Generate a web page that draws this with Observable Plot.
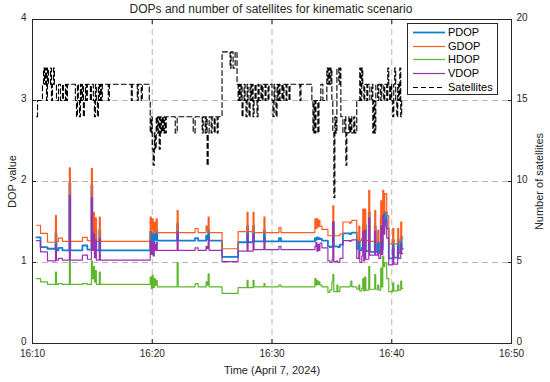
<!DOCTYPE html>
<html><head><meta charset="utf-8">
<script src="https://cdn.jsdelivr.net/npm/d3@7"></script>
<script src="https://cdn.jsdelivr.net/npm/@observablehq/plot@0.6"></script>
<style>
body{margin:0;background:#fff;font-family:"Liberation Sans",Arial,sans-serif;}
#wrap{position:relative;width:550px;height:382px;overflow:hidden;}
#title{position:absolute;top:2px;left:0;width:542px;text-align:center;font-size:12px;color:#262626;line-height:14px;}
#legend{position:absolute;left:407px;top:23px;width:89px;height:70px;border:1px solid #262626;background:#fff;}
.lrow{position:absolute;left:0;height:13px;width:89px;}
.lrow svg{position:absolute;left:4px;top:0;}
.lrow span{position:absolute;left:40px;top:-1px;font-size:11px;color:#000;line-height:14px;}
</style></head><body>
<div id="wrap"><div id="title">DOPs and number of satellites for kinematic scenario</div></div>
<script>
// ---- data (time in minutes after 16:10) ----
const timeTicks = [0, 10, 20, 30, 40];
const timeTickLabels = ["16:10", "16:20", "16:30", "16:40", "16:50"];
const dopTicks = [0, 1, 2, 3, 4];
const dopTickLabels = ["0", "1", "2", "3", "4"];
const satTickLabels = ["0", "5", "10", "15", "20"];
const seriesNames = ["PDOP", "GDOP", "HDOP", "VDOP", "Satellites"];
const seriesColors = ["#0f7fd0", "#ff5c1e", "#5cb82a", "#9a32b0", "#000000"];

const dopTime = [0.33,0.67,1.25,1.92,2.00,2.17,2.50,3.08,3.16,4.17,4.58,4.92,5.00,5.08,5.17,5.25,5.33,5.58,5.66,
  9.83,9.92,10.00,10.08,10.17,10.25,10.33,10.42,12.08,12.16,13.58,13.83,14.50,14.58,14.67,14.75,15.83,17.17,
  17.92,18.00,18.42,18.50,19.33,19.41,20.58,20.75,23.58,23.67,23.75,23.83,23.92,24.00,24.17,24.67,24.83,25.00,
  25.08,25.16,25.42,25.50,25.67,25.92,26.50,26.58,26.67,27.08,27.25,27.33,27.50,27.58,27.66,27.75,27.83,28.08,
  28.16,28.58,28.66,28.83,28.92,29.08,29.16,29.25,29.33,29.42,29.58,29.75,30.08,30.17,30.50,30.58,30.75,30.83,30.92];
const gdop = [1.46,1.36,1.25,1.58,1.26,1.30,1.26,2.17,1.26,1.31,1.27,2.16,1.40,1.62,1.30,1.55,1.26,1.56,1.26,
  1.56,1.40,1.54,1.36,1.50,1.38,1.54,1.37,1.64,1.37,1.42,1.37,1.45,1.40,1.56,1.37,1.17,1.38,
  1.62,1.38,1.62,1.37,1.56,1.37,1.43,1.37,1.54,1.42,1.54,1.44,1.52,1.45,1.41,1.33,1.33,1.33,
  1.70,1.33,1.33,1.33,1.35,1.50,1.48,1.50,1.52,1.27,1.45,1.27,1.30,1.66,1.27,1.66,1.27,1.89,
  1.26,1.64,1.26,1.40,1.25,1.76,1.30,1.89,1.62,1.85,1.58,1.23,1.42,1.23,1.42,1.26,1.50,1.30,1.30];
const pdop = [1.31,1.19,1.17,1.36,1.15,1.18,1.15,1.98,1.15,1.21,1.16,1.95,1.28,1.45,1.19,1.40,1.15,1.40,1.15,
  1.38,1.27,1.36,1.22,1.35,1.28,1.40,1.27,1.48,1.27,1.30,1.27,1.33,1.29,1.40,1.27,1.07,1.25,
  1.45,1.25,1.45,1.26,1.40,1.26,1.30,1.26,1.30,1.28,1.31,1.29,1.30,1.29,1.27,1.20,1.19,1.20,
  1.50,1.20,1.20,1.19,1.22,1.36,1.35,1.36,1.37,1.17,1.28,1.15,1.18,1.45,1.15,1.46,1.14,1.62,
  1.13,1.45,1.13,1.25,1.12,1.55,1.16,1.68,1.45,1.62,1.42,1.05,1.28,1.06,1.28,1.12,1.32,1.17,1.17];
const hdop = [0.80,0.76,0.73,0.88,0.73,0.74,0.73,1.02,0.73,0.74,0.73,1.02,0.80,0.95,0.76,0.90,0.73,0.88,0.73,
  0.82,0.68,0.84,0.69,0.80,0.72,0.78,0.70,1.00,0.70,0.74,0.70,0.76,0.72,0.86,0.70,0.62,0.69,
  0.78,0.69,0.78,0.70,0.74,0.70,0.72,0.70,0.80,0.72,0.78,0.73,0.76,0.72,0.70,0.63,0.66,0.76,
  0.85,0.64,0.72,0.64,0.70,0.70,0.71,0.77,0.70,0.67,0.72,0.65,0.68,0.80,0.65,0.82,0.66,0.95,
  0.67,0.85,0.67,0.72,0.66,0.93,0.70,1.08,0.95,1.00,0.80,0.64,0.75,0.65,0.72,0.66,0.77,0.68,0.68];
const vdop = [1.27,1.13,1.02,1.22,1.03,1.05,1.03,1.83,1.03,1.09,1.04,1.80,1.15,1.35,1.06,1.28,1.03,1.30,1.03,
  1.28,1.10,1.25,1.08,1.22,1.15,1.25,1.15,1.38,1.15,1.18,1.15,1.20,1.17,1.30,1.15,1.01,1.14,
  1.35,1.14,1.35,1.16,1.30,1.16,1.20,1.16,1.20,1.25,1.14,1.22,1.15,1.24,1.18,1.02,1.00,1.03,
  1.50,1.01,1.02,1.00,1.05,1.27,1.26,1.27,1.28,1.05,1.15,1.00,1.08,1.38,1.02,1.40,1.04,1.55,
  1.09,1.38,1.09,1.15,1.05,1.45,1.10,1.58,1.35,1.52,1.30,0.97,1.18,0.98,1.20,1.05,1.22,1.11,1.11];

const satellites = [[0.33,14],[0.42,15],[0.83,16],[0.92,17],[1.0,16],[1.08,17],[1.17,15],[1.25,17],[1.33,16],[1.5,17],
  [1.58,15],[1.67,16],[1.75,17],[1.83,16],[2.0,15],[2.17,16],[2.33,15],[2.5,16],[2.58,15],[2.75,16],[2.83,15],[2.92,16],
  [3.58,15],[3.67,14],[3.75,16],[3.83,15],[3.92,14],[4.0,16],[4.08,15],[4.17,16],[4.25,14],[4.33,15],[4.42,16],[4.5,15],
  [4.58,16],[4.83,15],[4.92,16],[5.08,15],[5.17,14],[5.25,16],[5.33,15],[5.42,14],[5.5,16],[5.58,15],[5.67,16],[5.75,15],
  [5.83,16],[6.33,15],[6.42,16],[8.25,15],[8.33,16],[8.75,15],[8.83,16],[9.08,15],[9.17,16],
  [9.75,15],[9.83,13],[9.92,14],[10.0,12],[10.08,11],[10.17,13],[10.25,12],[10.33,14],[10.42,13],[10.5,14],[10.58,12],
  [10.67,14],[10.75,13],[10.83,14],[10.92,13],[11.0,14],[11.08,13],[11.17,14],
  [11.92,13],[12.08,14],[13.42,13],[13.58,14],[14.17,13],[14.25,14],[14.42,13],[14.5,14],[14.58,11],[14.67,13],[14.75,14],
  [14.92,13],[15.0,14],[15.17,13],[15.25,14],[15.42,13],[15.5,14],
  [15.83,18],[16.5,17],[16.58,18],[16.75,17],[16.92,18],[17.08,16],[17.17,15],[17.25,16],[17.33,15],[17.42,16],[17.5,14],
  [17.58,15],[17.67,16],[17.75,15],[17.83,14],[17.92,16],[18.0,15],[18.08,14],[18.17,16],[18.25,15],[18.33,16],[18.42,14],
  [18.5,15],[18.58,16],[18.67,15],[18.75,14],[18.83,16],[18.92,15],[19.08,16],[19.17,15],[19.25,16],[19.42,15],[19.5,16],
  [19.67,15],[19.75,16],[20.0,15],[20.08,14],[20.17,16],[20.25,15],[20.33,14],[20.42,16],[20.5,15],[20.58,16],[20.67,15],
  [20.83,16],[20.92,15],[21.0,16],[21.17,15],[21.25,16],[21.42,15],[21.5,16],[22.33,15],[22.42,16],[23.33,15],
  [23.42,13],[23.5,15],[23.58,13],[23.67,15],[23.83,13],[23.92,15],[24.08,16],[24.25,15],[24.58,17],[24.67,16],[24.75,17],
  [24.83,16],[24.92,17],[25.0,15],[25.08,13],[25.17,9],[25.25,14],[25.33,13],[25.42,17],[25.58,16],[25.67,17],[25.75,14],
  [25.92,13],[26.08,14],[26.17,11],[26.25,13],[26.42,14],[26.5,13],[26.58,14],[26.67,13],[26.83,14],[26.92,13],[27.08,15],
  [27.33,17],[27.42,15],[27.5,17],[27.58,16],[27.67,15],[27.75,16],[27.92,15],[28.0,16],[28.17,15],[28.33,16],[28.42,13],
  [28.5,15],[28.58,13],[28.67,16],[28.83,15],[28.92,16],[29.08,15],[29.17,16],[29.33,15],[29.42,16],[29.58,15],[29.67,17],
  [29.75,16],[29.83,15],[29.92,16],[30.0,15],[30.08,14],[30.17,16],[30.25,17],[30.33,15],[30.42,14],[30.5,16],[30.58,15],
  [30.67,17],[30.75,14],[30.83,15],[30.92,15]];

// ---- build ----
const dopRows = dopTime.map((t, i) => ({t, PDOP: pdop[i], GDOP: gdop[i], HDOP: hdop[i], VDOP: vdop[i]}));
const satRows = satellites.map(([t, n]) => ({t, n}));
const satPerDop = 5; // right axis 0..20 aligned with left axis 0..4
const ink = "#262626";
const gridStyle = {stroke: "#b5b5b5", strokeOpacity: 1, strokeDasharray: "6,4", strokeWidth: 1};
const noText = () => "";

const dopLine = (name, w) => Plot.line(dopRows, {x: "t", y: name, curve: "step-after",
  stroke: seriesColors[seriesNames.indexOf(name)], strokeWidth: w});

const chart = Plot.plot({
  width: 550, height: 382,
  marginTop: 19, marginBottom: 39, marginLeft: 32, marginRight: 39,
  style: {fontFamily: "'Liberation Sans', Arial, sans-serif", fontSize: "10px", color: ink, background: "white"},
  x: {domain: [0, 40]},
  y: {domain: [0, 4]},
  marks: [
    Plot.gridX(timeTicks.slice(1, -1), gridStyle),
    Plot.gridY(dopTicks.slice(1, -1), gridStyle),
    dopLine("PDOP", 1.8),
    dopLine("GDOP", 1.2),
    dopLine("HDOP", 1.2),
    dopLine("VDOP", 1.2),
    Plot.line(satRows, {x: "t", y: d => d.n / satPerDop, curve: "step-after",
      stroke: "#000", strokeWidth: 1.1, strokeDasharray: "5,3"}),
    // inward tick marks (MATLAB style)
    Plot.axisX(timeTicks, {anchor: "bottom", tickSize: -4, tickFormat: noText, label: null, stroke: ink}),
    Plot.axisX(timeTicks, {anchor: "top", tickSize: -4, tickFormat: noText, label: null, stroke: ink}),
    Plot.axisY(dopTicks, {anchor: "left", tickSize: -4, tickFormat: noText, label: null, stroke: ink}),
    Plot.axisY(dopTicks, {anchor: "right", tickSize: -4, tickFormat: noText, label: null, stroke: ink}),
    // labelled axes
    Plot.axisX(timeTicks, {anchor: "bottom", tickSize: 0, tickPadding: 6,
      tickFormat: d => timeTickLabels[timeTicks.indexOf(d)],
      label: "Time (April 7, 2024)", labelAnchor: "center", labelArrow: "none", labelOffset: 30}),
    Plot.axisY(dopTicks, {anchor: "left", tickSize: 0, tickPadding: 6, dy: -2,
      tickFormat: d => dopTickLabels[dopTicks.indexOf(d)],
      label: "DOP value", labelAnchor: "center", labelArrow: "none", labelOffset: 24}),
    Plot.axisY(dopTicks, {anchor: "right", tickSize: 0, tickPadding: 5, dy: -2,
      tickFormat: d => satTickLabels[dopTicks.indexOf(d)],
      label: "Number of satellites", labelAnchor: "center", labelArrow: "none", labelOffset: 31}),
    Plot.frame({stroke: ink, strokeWidth: 1})
  ]
});
const wrap = document.getElementById("wrap");
wrap.appendChild(chart);
d3.select(chart).selectAll("[aria-label$='axis label'] text, [aria-label$='axis label']").style("font-size", "11px");

// legend
const legend = document.createElement("div");
legend.id = "legend";
seriesNames.forEach((name, i) => {
  const row = document.createElement("div");
  row.className = "lrow";
  row.style.top = (2 + i * 13.7) + "px";
  const dash = name === "Satellites" ? ' stroke-dasharray="5,3"' : "";
  const w = name === "PDOP" ? 1.8 : 1.2;
  row.innerHTML = `<svg width="34" height="13"><line x1="1" x2="33" y1="6.5" y2="6.5" stroke="${seriesColors[i]}" stroke-width="${w}"${dash}/></svg><span>${name}</span>`;
  legend.appendChild(row);
});
wrap.appendChild(legend);
</script>
</body></html>
